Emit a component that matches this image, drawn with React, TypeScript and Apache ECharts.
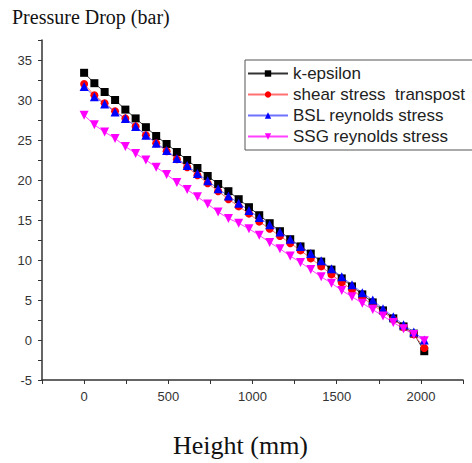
import React, { useEffect, useRef } from "react";
import * as echarts from "echarts";

const heights = [0, 61, 122, 184, 245, 306, 367, 428, 490, 551, 612, 673, 734, 796, 857, 918, 979, 1040, 1102, 1163, 1224, 1285, 1346, 1408, 1469, 1530, 1591, 1652, 1714, 1775, 1836, 1897, 1958, 2020];

const kEpsilon = [33.4, 32.1, 31.0, 30.0, 28.8, 27.7, 26.6, 25.5, 24.5, 23.5, 22.5, 21.5, 20.5, 19.5, 18.6, 17.6, 16.6, 15.6, 14.6, 13.6, 12.6, 11.7, 10.8, 9.8, 8.8, 7.7, 6.7, 5.7, 4.7, 3.7, 2.7, 1.7, 0.8, -1.4];
const shearStress = [32.0, 30.6, 29.6, 28.6, 27.7, 26.7, 25.6, 24.6, 23.6, 22.6, 21.6, 20.6, 19.6, 18.6, 17.6, 16.7, 15.8, 14.8, 13.9, 13.0, 12.1, 11.2, 10.2, 9.2, 8.2, 7.2, 6.3, 5.3, 4.4, 3.5, 2.6, 1.6, 0.7, -1.0];
const bslReynolds = [31.7, 30.4, 29.5, 28.5, 27.7, 26.7, 25.6, 24.6, 23.7, 22.7, 21.8, 20.8, 19.9, 18.9, 18.0, 17.1, 16.2, 15.3, 14.4, 13.5, 12.6, 11.7, 10.8, 9.9, 8.9, 7.9, 6.9, 5.9, 5.0, 3.9, 2.9, 1.9, 1.0, 0.0];
const ssgReynolds = [28.1, 26.9, 26.0, 25.2, 24.2, 23.3, 22.5, 21.6, 20.7, 19.7, 18.8, 17.9, 17.0, 16.0, 15.2, 14.6, 13.9, 13.1, 12.2, 11.4, 10.5, 9.7, 8.8, 7.9, 7.1, 6.2, 5.4, 4.6, 3.8, 3.0, 2.2, 1.4, 0.7, -0.1];

const seriesNames = ["k-epsilon", "shear stress  transpost", "BSL reynolds stress", "SSG reynolds stress"];

const App: React.FC = () => {
  const ref = useRef<HTMLDivElement>(null);
  useEffect(() => {
    document.body.style.margin = "0";
    if (!ref.current) return;
    const chart = echarts.init(ref.current, undefined, { renderer: "svg" });
    const pair = (ys: number[]) => heights.map((h, i) => [h, ys[i]]);
    const mk = (name: string, ys: number[], color: string, lineColor: string, symbol: string, size: number, rotate = 0) => ({
      name,
      type: "line",
      data: pair(ys),
      symbol,
      symbolSize: size,
      symbolRotate: rotate,
      showAllSymbol: true,
      itemStyle: { color },
      lineStyle: { color: lineColor, width: 1 },
      z: 2,
    });
    chart.setOption({
      animation: false,
      backgroundColor: "#fff",
      title: {
        text: "Pressure Drop (bar)",
        left: 12,
        top: 7,
        padding: 0,
        textStyle: { fontFamily: "Liberation Serif", fontSize: 20, fontWeight: "normal", color: "#111" },
      },
      legend: {
        orient: "vertical",
        left: 245,
        top: 60,
        data: seriesNames,
        itemWidth: 40,
        itemHeight: 8,
        itemGap: 4,
        padding: [5, 12, 5, 2],
        borderColor: "#555",
        borderWidth: 1,
        textStyle: { fontFamily: "Liberation Sans", fontSize: 17, color: "#222", lineHeight: 17 },
      },
      grid: { left: 42, right: 9, top: 40, bottom: 83 },
      xAxis: {
        type: "value",
        min: -250,
        max: 2250,
        interval: 250,
        axisLine: { show: true, onZero: false, lineStyle: { color: "#333", width: 1.5 } },
        axisTick: { show: true, length: 4, lineStyle: { color: "#333" } },
        axisLabel: {
          margin: 10,
          fontFamily: "Liberation Sans",
          fontSize: 13,
          color: "#333",
          formatter: (v: number) => (v % 500 === 0 ? String(v) : ""),
          showMinLabel: true,
          showMaxLabel: true,
        },
        splitLine: { show: false },
      },
      yAxis: {
        type: "value",
        min: -5,
        max: 37.5,
        interval: 2.5,
        axisLine: { show: true, onZero: false, lineStyle: { color: "#333", width: 1.5 } },
        axisTick: { show: true, length: 4, lineStyle: { color: "#333" } },
        axisLabel: {
          margin: 10,
          fontFamily: "Liberation Sans",
          fontSize: 13,
          color: "#333",
          formatter: (v: number) => (v % 5 === 0 ? String(v) : ""),
        },
        splitLine: { show: false },
      },
      graphic: [
        {
          type: "text",
          left: 173,
          top: 432,
          style: { text: "Height (mm)", font: '26px "Liberation Serif"', fill: "#111" },
        },
      ],
      series: [
        mk(seriesNames[0], kEpsilon, "#000000", "#333333", "rect", 8),
        mk(seriesNames[1], shearStress, "#ff0000", "#ff7070", "circle", 8),
        mk(seriesNames[2], bslReynolds, "#0000ff", "#7070ff", "triangle", 9),
        mk(seriesNames[3], ssgReynolds, "#ff00ff", "#ff40ff", "triangle", 9, 180),
      ],
    });
    return () => chart.dispose();
  }, []);
  return <div ref={ref} style={{ width: 472, height: 463 }} />;
};

export default App;
